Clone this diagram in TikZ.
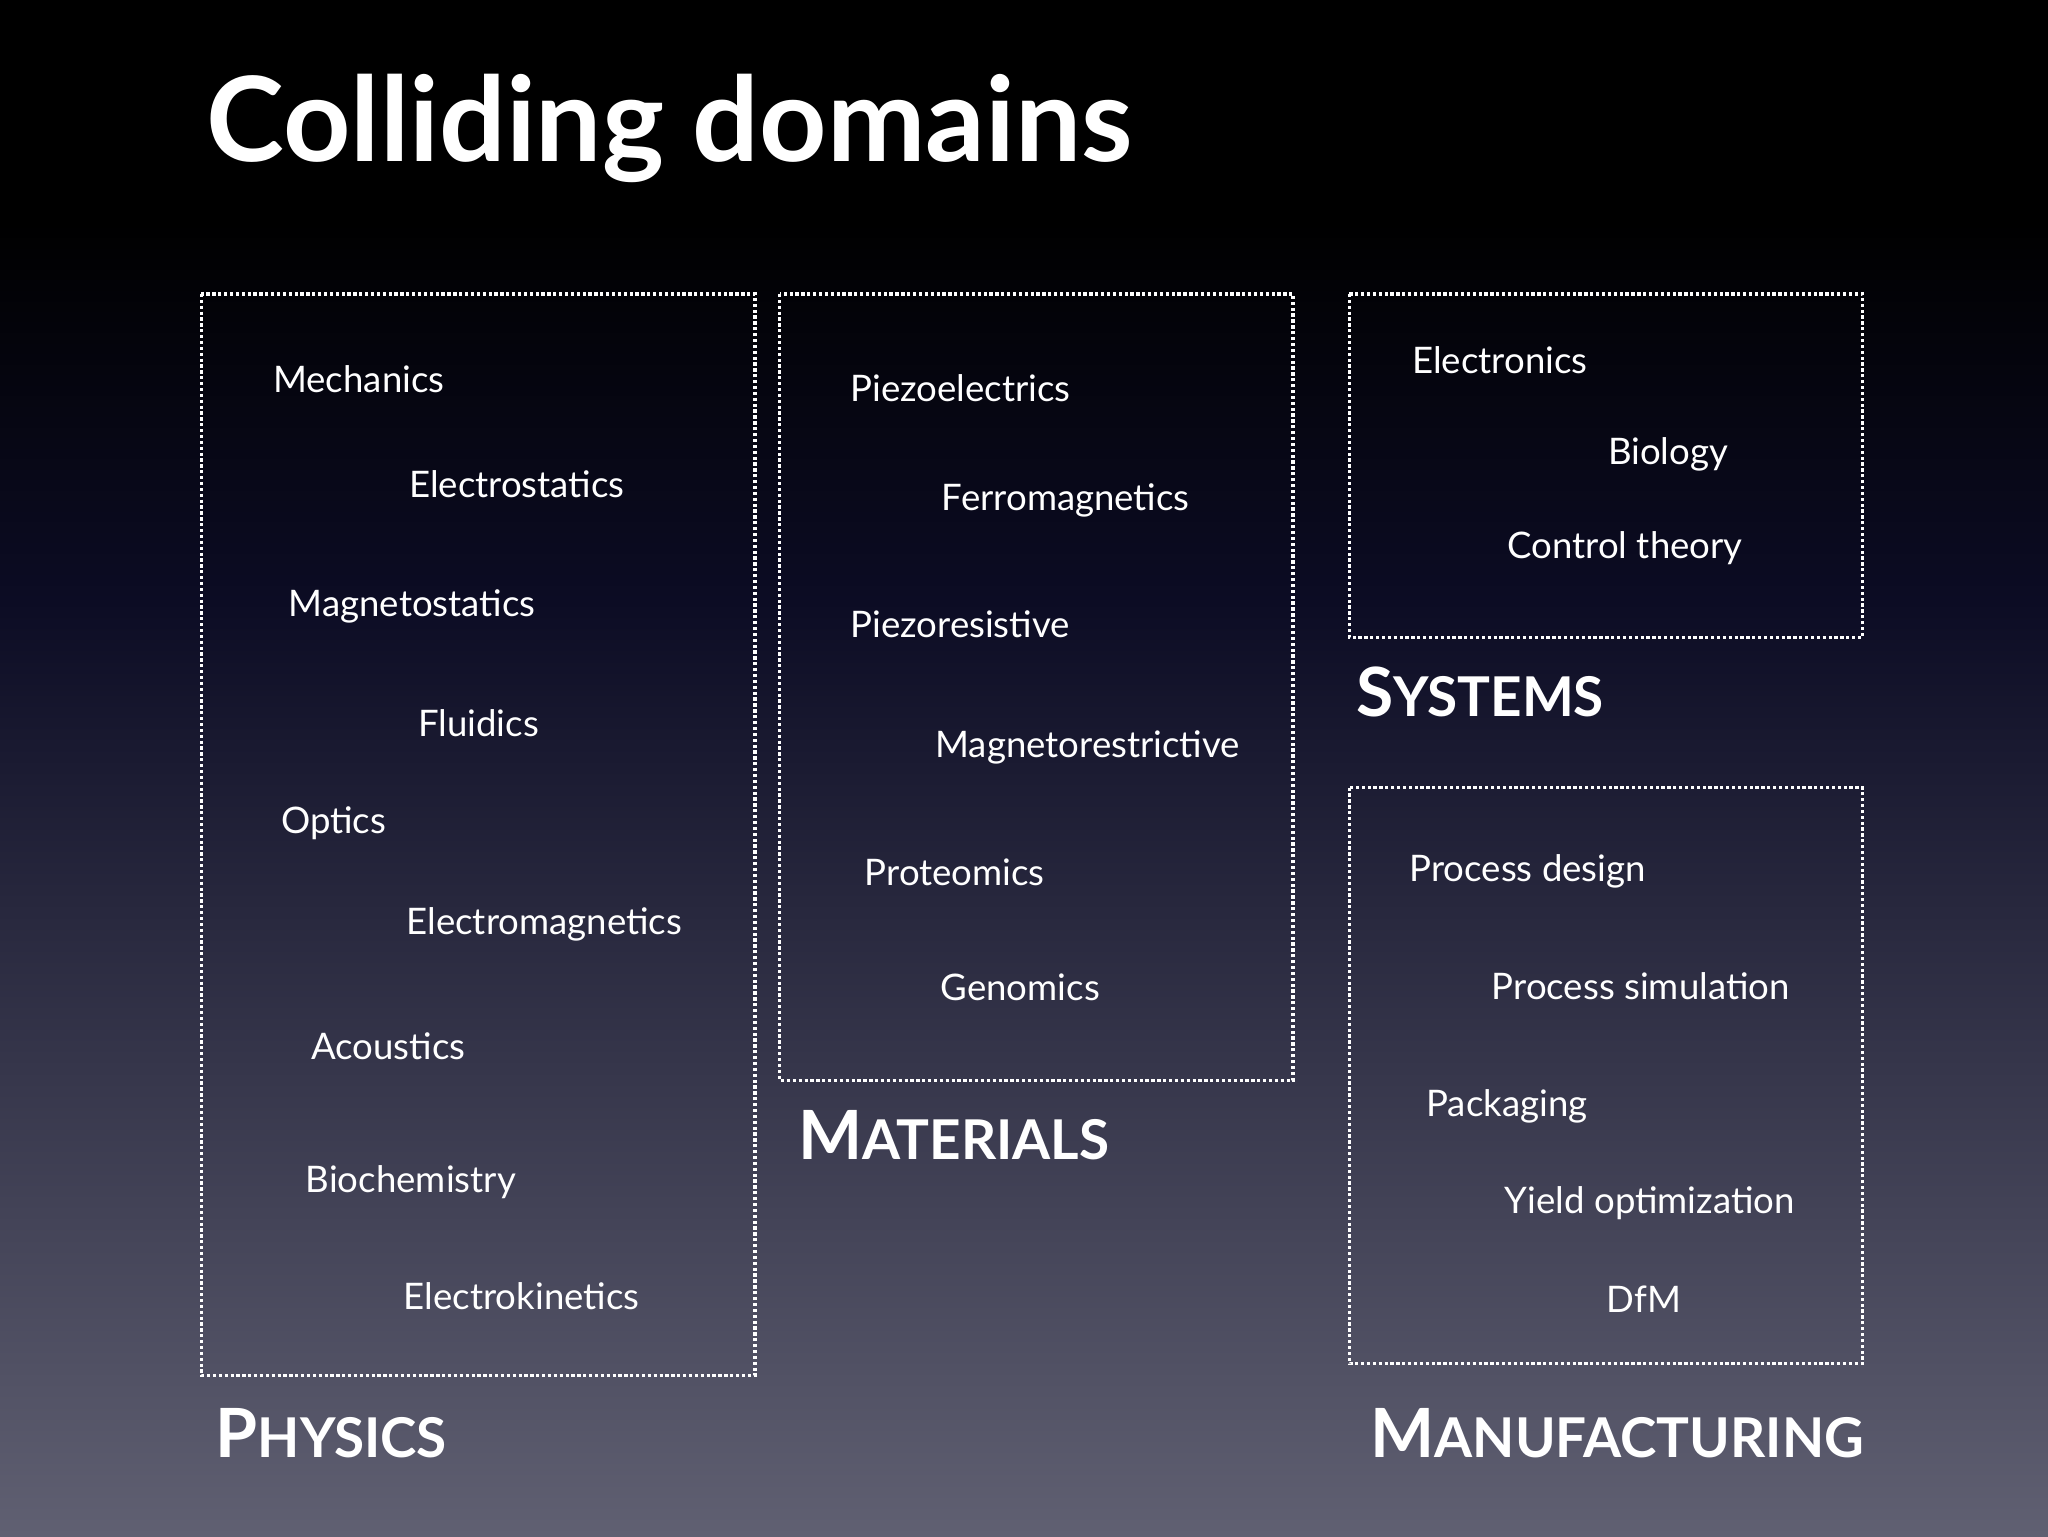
\documentclass[tikz,border=0pt]{standalone}
\usepackage{fontspec}
\setmainfont{Lato}
\begin{document}
\begin{tikzpicture}[x=1pt,y=-1pt,
  box/.style={draw=white,line width=2.5pt,dotted},
  item/.style={anchor=west,text=white,font=\fontsize{28}{30}\selectfont,inner sep=0},
  head/.style={anchor=west,text=white,font=\bfseries\fontsize{52}{56}\selectfont,inner sep=0}]
\definecolor{bgtop}{RGB}{0,0,0}
\definecolor{bgmid}{RGB}{12,12,36}
\definecolor{bgbot}{RGB}{96,96,114}
\path[use as bounding box] (0,0) rectangle (1568,1176);
\fill[bgtop] (0,0) rectangle (1568,170);
\shade[top color=bgtop,bottom color=bgmid] (0,170) rectangle (1568,460);
\shade[top color=bgmid,bottom color=bgbot] (0,460) rectangle (1568,1176);
\node[anchor=west,text=white,font=\bfseries\fontsize{90}{96}\selectfont,inner sep=0] (title) at (158,98) {Colliding domains};
\draw[box] (154,225) rectangle (578,1053);
\draw[box] (597,225) rectangle (990,827);
\draw[box] (1033,225) rectangle (1426,488);
\draw[box] (1033,603) rectangle (1426,1044);
\node[item] (a1) at (209,290) {Mechanics};
\node[item] (a2) at (313,371) {Electrostatics};
\node[item] (a3) at (221,464) {Magnetostatics};
\node[item] (a4) at (320,554) {Fluidics};
\node[item] (a5) at (215,630) {Optics};
\node[item] (a6) at (311,708) {Electromagnetics};
\node[item] (a7) at (238,801) {Acoustics};
\node[item] (a8) at (234,905) {Biochemistry};
\node[item] (a9) at (309,992) {Electrokinetics};
\node[item] (b1) at (651,297) {Piezoelectrics};
\node[item] (b2) at (721,383) {Ferromagnetics};
\node[item] (b3) at (651,478) {Piezoresistive};
\node[item] (b4) at (716,572) {Magnetorestrictive};
\node[item] (b5) at (662,668) {Proteomics};
\node[item] (b6) at (720,756) {Genomics};
\node[item] (c1) at (1081,276) {Electronics};
\node[item] (c2) at (1231,348) {Biology};
\node[item] (c3) at (1154,420) {Control theory};
\node[item] (d1) at (1079,667) {Process design};
\node[item] (d2) at (1142,755) {Process simulation};
\node[item] (d3) at (1092,847) {Packaging};
\node[item] (d4) at (1152,921) {Yield optimization};
\node[item] (d5) at (1230,995) {DfM};
\newcommand{\fakesc}[2]{#1{\fontsize{42}{46}\selectfont #2}}
\node[head] (h1) at (165,1097) {\fakesc{P}{HYSICS}};
\node[head] (h2) at (611,869) {\fakesc{M}{ATERIALS}};
\node[head] (h3) at (1038,530) {\fakesc{S}{YSTEMS}};
\node[head] (h4) at (1049,1097) {\fakesc{M}{ANUFACTURING}};
\end{tikzpicture}
\end{document}
